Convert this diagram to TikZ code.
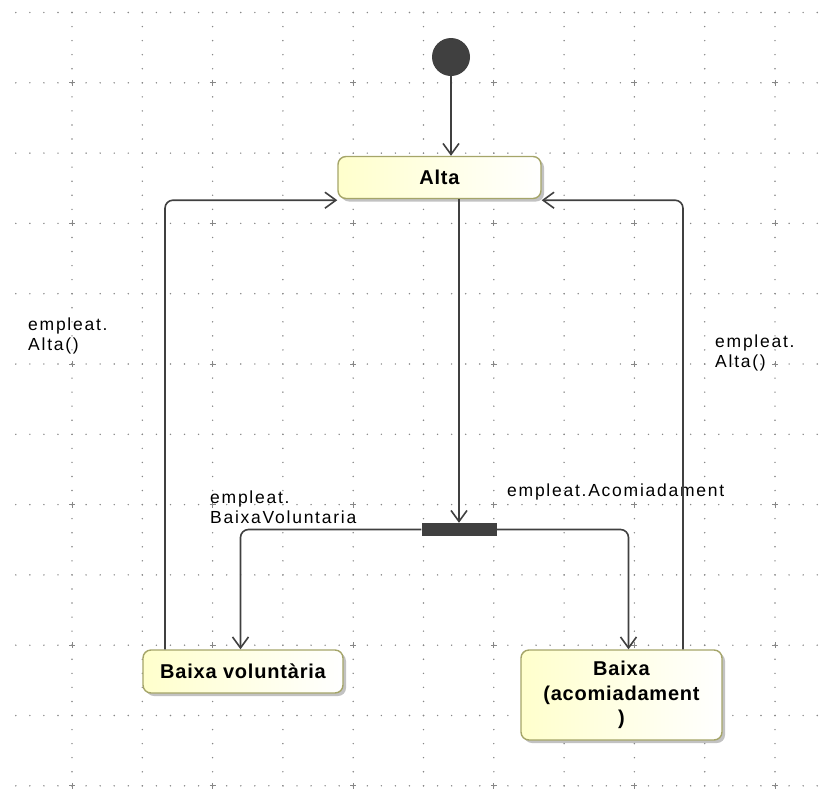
\documentclass[tikz,border=0pt]{standalone}
\usepackage{fontspec}
\setmainfont{Liberation Sans}
\newfontfamily\lblfont[LetterSpace=10]{Liberation Sans}
\newfontfamily\statefont[LetterSpace=4]{Liberation Sans}
\usepackage{tikz}
\usetikzlibrary{arrows.meta}
\usetikzlibrary{positioning}
\usetikzlibrary{shadows}
\usetikzlibrary{calc}
\definecolor{statefill}{RGB}{255,255,204}
\definecolor{stateline}{RGB}{165,165,105}
\definecolor{umlline}{RGB}{64,64,64}
\definecolor{griddot}{RGB}{135,135,135}
\tikzstyle{state}=[draw=stateline,line width=1.4pt,rounded corners=8pt,left color=statefill,right color=white,drop shadow={shadow xshift=3pt,shadow yshift=-3pt,fill=black!40,opacity=0.6},font=\statefont\bfseries\fontsize{20}{24.5}\selectfont,align=center,inner sep=0pt]
\tikzstyle{trans}=[draw=umlline,line width=1.6pt,-{Straight Barb[length=11pt,width=16pt]},rounded corners=8pt]
\tikzstyle{lbl}=[font=\lblfont\fontsize{17.5}{20}\selectfont,align=left,inner sep=0pt,anchor=north west]

\begin{document}
\begin{tikzpicture}[x=1pt,y=-1pt]
\useasboundingbox (0,0) rectangle (825,796);
% dotted grid
\foreach \r in {0,...,11}{
  \foreach \c in {0,...,57}{
    \fill[griddot] ({15.8+14.06*\c},{12.5+70.3*\r}) circle (0.8pt);
  }
}
\foreach \c in {0,...,10}{
  \foreach \r in {0,...,55}{
    \fill[griddot] ({72+70.3*\c},{12.5+14.06*\r}) circle (0.8pt);
  }
}
\foreach \c in {0,...,5}{
  \foreach \r in {0,...,5}{
    \draw[griddot,line width=1pt] ({72+140.6*\c},{82.8+140.6*\r}) ++(-3,0) -- ++(6,0) ++(-3,-3) -- ++(0,6);
  }
}

\node [circle,fill=umlline,minimum size=38pt,inner sep=0pt] (init) at (451,57) {};
\node [state,minimum width=203pt,minimum height=42pt] (alta) at (439.5,177.5) {Alta};
\node [fill=umlline,minimum width=75pt,minimum height=13pt,inner sep=0pt] (fork) at (459,529.5) {};
\node [state,minimum width=200pt,minimum height=43pt] (bvol) at (243,671.5) {Baixa voluntària};
\node [state,minimum width=201pt,minimum height=90pt] (bacom) at (621.5,695) {Baixa\\(acomiadament\\)};

\node [lbl] (lblaltaL) at (28,318) {empleat.\\Alta()};
\node [lbl] (lblaltaR) at (715,335) {empleat.\\Alta()};
\node [lbl] (lblvol) at (210,491) {empleat.\\BaixaVoluntaria};
\node [lbl] (lblacom) at (507,484) {empleat.Acomiadament};

\draw [trans] (init) -- (init |- alta.north);
\draw [trans] (fork.north |- alta.south) -- (fork.north);
\draw [trans] (fork.west) -| ([xshift=-2.5pt]bvol.north);
\draw [trans] (fork.east) -| ([xshift=7pt]bacom.north);
\draw [trans] ([xshift=-78pt]bvol.north) |- ([yshift=-1pt]alta.south west);
\draw [trans] ([xshift=61.5pt]bacom.north) |- ([yshift=-1pt]alta.south east);
\end{tikzpicture}
\end{document}
